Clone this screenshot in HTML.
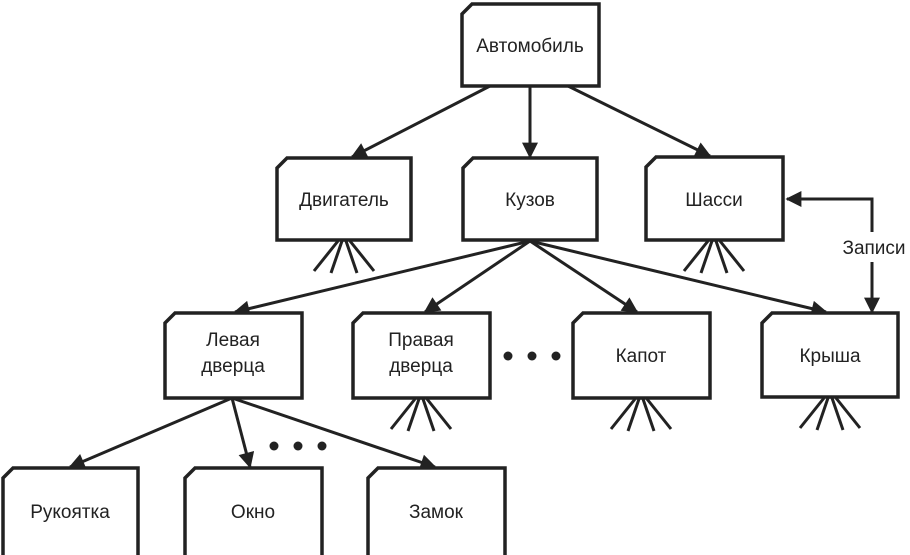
<!DOCTYPE html>
<html><head><meta charset="utf-8"><style>
html,body{margin:0;padding:0;background:#fff;}
svg{display:block;}
text{font-family:"Liberation Sans",sans-serif;font-size:19px;fill:#222;text-anchor:middle;}
</style></head><body>
<svg width="910" height="555" viewBox="0 0 910 555" xmlns="http://www.w3.org/2000/svg">
<defs>
<marker id="a" viewBox="0 0 10 10" refX="9" refY="5" markerWidth="7" markerHeight="7" orient="auto-start-reverse" markerUnits="userSpaceOnUse">
<path d="M0,0 L10,5 L0,10 z" fill="#222"/></marker>
<marker id="b" viewBox="0 0 10 10" refX="9" refY="5" markerWidth="18" markerHeight="16" orient="auto-start-reverse" markerUnits="userSpaceOnUse">
<path d="M0,0 L10,5 L0,10 z" fill="#222"/></marker>
</defs>
<g stroke="#222" stroke-width="3" fill="none">
<!-- connectors -->
<line x1="490" y1="86" x2="352" y2="157" marker-end="url(#b)"/>
<line x1="530" y1="86" x2="530" y2="157" marker-end="url(#b)"/>
<line x1="568" y1="86" x2="710" y2="156" marker-end="url(#b)"/>
<line x1="530" y1="241" x2="235" y2="312" marker-end="url(#b)"/>
<line x1="530" y1="241" x2="425" y2="312" marker-end="url(#b)"/>
<line x1="530" y1="241" x2="637" y2="312" marker-end="url(#b)"/>
<line x1="530" y1="241" x2="826" y2="312" marker-end="url(#b)"/>
<line x1="232" y1="398" x2="70" y2="467" marker-end="url(#b)"/>
<line x1="232" y1="398" x2="250" y2="467" marker-end="url(#b)"/>
<line x1="232" y1="398" x2="435" y2="467" marker-end="url(#b)"/>
<polyline points="787,199 872,199 872,312" marker-start="url(#b)" marker-end="url(#b)"/>
</g>
<rect x="838" y="232" width="72" height="30" fill="#fff"/>
<text x="874" y="254">Записи</text>
<!-- dots -->
<g fill="#222"><circle cx="508" cy="356" r="4.5"/><circle cx="532" cy="356" r="4.5"/><circle cx="556" cy="356" r="4.5"/>
<circle cx="274" cy="446" r="4.5"/><circle cx="298" cy="446" r="4.5"/><circle cx="322" cy="446" r="4.5"/></g>
<!-- boxes -->
<g stroke="#222" stroke-width="3.5" fill="#fff">
<path d="M472,4 H599 V86 H462 V14 Z"/>
<path d="M287,158 H411 V240 H277 V168 Z"/>
<path d="M473,158 H597 V240 H463 V168 Z"/>
<path d="M656,157 H783 V240 H646 V167 Z"/>
<path d="M175,313 H302 V398 H165 V323 Z"/>
<path d="M363,313 H490 V398 H353 V323 Z"/>
<path d="M583,313 H710 V398 H573 V323 Z"/>
<path d="M772,313 H898 V397 H762 V323 Z"/>
<path d="M13,468 H138 V560 H3 V478 Z"/>
<path d="M195,468 H322 V560 H185 V478 Z"/>
<path d="M378,468 H505 V560 H368 V478 Z"/>
</g>
<!-- fans -->
<g stroke="#222" stroke-width="3" id="fans">
<g transform="translate(344,241)"><line x1="-6" y1="0" x2="-30" y2="30"/><line x1="-2" y1="0" x2="-13" y2="32"/><line x1="2" y1="0" x2="13" y2="32"/><line x1="6" y1="0" x2="30" y2="30"/></g>
<g transform="translate(714,241)"><line x1="-6" y1="0" x2="-30" y2="30"/><line x1="-2" y1="0" x2="-13" y2="32"/><line x1="2" y1="0" x2="13" y2="32"/><line x1="6" y1="0" x2="30" y2="30"/></g>
<g transform="translate(421,399)"><line x1="-6" y1="0" x2="-30" y2="30"/><line x1="-2" y1="0" x2="-13" y2="32"/><line x1="2" y1="0" x2="13" y2="32"/><line x1="6" y1="0" x2="30" y2="30"/></g>
<g transform="translate(641,399)"><line x1="-6" y1="0" x2="-30" y2="30"/><line x1="-2" y1="0" x2="-13" y2="32"/><line x1="2" y1="0" x2="13" y2="32"/><line x1="6" y1="0" x2="30" y2="30"/></g>
<g transform="translate(830,398)"><line x1="-6" y1="0" x2="-30" y2="30"/><line x1="-2" y1="0" x2="-13" y2="32"/><line x1="2" y1="0" x2="13" y2="32"/><line x1="6" y1="0" x2="30" y2="30"/></g>
</g>
<!-- labels -->
<text x="530" y="52">Автомобиль</text>
<text x="344" y="206">Двигатель</text>
<text x="530" y="206">Кузов</text>
<text x="714" y="206">Шасси</text>
<text x="233" y="346">Левая</text><text x="233" y="372">дверца</text>
<text x="421" y="346">Правая</text><text x="421" y="372">дверца</text>
<text x="641" y="362">Капот</text>
<text x="830" y="362">Крыша</text>
<text x="70" y="518">Рукоятка</text>
<text x="253" y="518">Окно</text>
<text x="436" y="518">Замок</text>
</g>
</svg>
</body></html>
